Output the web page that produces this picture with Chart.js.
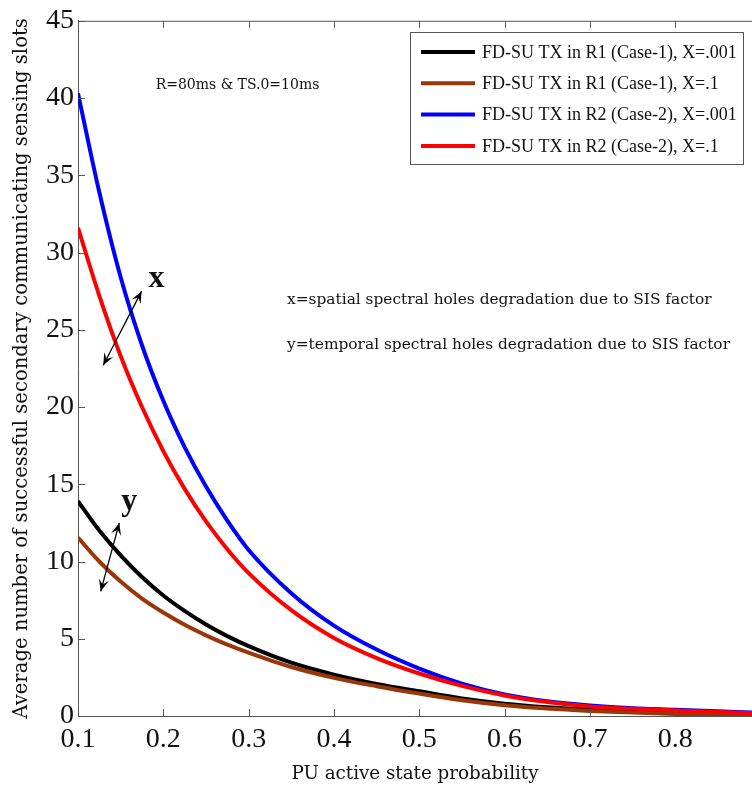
<!DOCTYPE html>
<html>
<head>
<meta charset="utf-8">
<script src="https://cdn.jsdelivr.net/npm/chart.js@4"></script>
<style>
  body { margin: 0; background: #fff; }
  #wrap { width: 752px; height: 789px; }
</style>
</head>
<body>
<div id="wrap"><canvas id="chart" width="752" height="789"></canvas></div>
<script>
// PU active state probability (x) and the four curves
const xValues = [0.10, 0.125, 0.15, 0.175, 0.20, 0.225, 0.25, 0.275, 0.30, 0.35, 0.40, 0.45, 0.50, 0.55, 0.60, 0.65, 0.70, 0.75, 0.80, 0.85, 0.89];
const r1Low  = [13.9, 12.0, 10.4, 9.0, 7.8, 6.8, 5.92, 5.17, 4.52, 3.45, 2.68, 2.08, 1.6, 1.14, 0.8, 0.57, 0.41, 0.3, 0.22, 0.15, 0.1];
const r1High = [11.55, 10.0, 8.7, 7.6, 6.7, 5.9, 5.22, 4.62, 4.1, 3.17, 2.47, 1.93, 1.45, 1.02, 0.7, 0.48, 0.33, 0.22, 0.13, 0.07, 0.04];
const r2Low  = [40.3, 33.9, 28.4, 24.0, 20.4, 17.4, 14.85, 12.65, 10.75, 7.95, 5.85, 4.3, 3.07, 2.1, 1.4, 0.95, 0.68, 0.5, 0.4, 0.3, 0.22];
const r2High = [31.6, 27.2, 23.3, 20.0, 17.15, 14.7, 12.6, 10.8, 9.25, 6.85, 5.05, 3.75, 2.75, 1.95, 1.33, 0.9, 0.62, 0.47, 0.36, 0.26, 0.18];

const seriesLabels = [
  "FD-SU TX in R1 (Case-1), X=.001",
  "FD-SU TX in R1 (Case-1), X=.1",
  "FD-SU TX in R2 (Case-2), X=.001",
  "FD-SU TX in R2 (Case-2), X=.1"
];
const seriesColors = ["#000000", "#9a3708", "#0000ff", "#ff0000"];

const xTicks = [0.1, 0.2, 0.3, 0.4, 0.5, 0.6, 0.7, 0.8];
const yTicks = [0, 5, 10, 15, 20, 25, 30, 35, 40, 45];

const SERIF = "'Liberation Serif', serif";
const WIDE_SERIF = "'DejaVu Serif', serif";

function toPoints(ys) {
  return xValues.map((x, i) => ({ x: x, y: ys[i] }));
}

// Inward ticks, top frame, legend box and the text / arrow annotations
const decorPlugin = {
  id: "decor",
  afterDraw(chart) {
    const ctx = chart.ctx;
    const area = chart.chartArea;
    const xs = chart.scales.x;
    const ys = chart.scales.y;

    ctx.save();
    ctx.strokeStyle = "#555";
    ctx.lineWidth = 1;
    // top frame
    ctx.beginPath();
    ctx.moveTo(area.left, area.top + 0.5);
    ctx.lineTo(area.right, area.top + 0.5);
    ctx.stroke();
    // x ticks (bottom and top)
    xTicks.forEach((v) => {
      const px = Math.round(xs.getPixelForValue(v)) + 0.5;
      ctx.beginPath();
      ctx.moveTo(px, area.bottom);
      ctx.lineTo(px, area.bottom - 7);
      ctx.moveTo(px, area.top);
      ctx.lineTo(px, area.top + 7);
      ctx.stroke();
    });
    // y ticks (left)
    yTicks.forEach((v) => {
      const py = Math.round(ys.getPixelForValue(v)) + 0.5;
      ctx.beginPath();
      ctx.moveTo(area.left, py);
      ctx.lineTo(area.left + 7, py);
      ctx.stroke();
    });

    // legend
    const lx = 410, ly = 32, lw = 333, lh = 132;
    ctx.fillStyle = "#fff";
    ctx.fillRect(lx, ly, lw, lh);
    ctx.strokeStyle = "#555";
    ctx.strokeRect(lx + 0.5, ly + 0.5, lw, lh);
    ctx.font = "18px " + SERIF;
    ctx.textBaseline = "middle";
    ctx.textAlign = "left";
    chart.data.datasets.forEach((ds, i) => {
      const rowY = 52 + i * 31.3;
      ctx.strokeStyle = ds.borderColor;
      ctx.lineWidth = 4;
      ctx.beginPath();
      ctx.moveTo(421, rowY);
      ctx.lineTo(475, rowY);
      ctx.stroke();
      ctx.fillStyle = "#111";
      ctx.fillText(ds.label, 482, rowY + 1);
    });

    // text notes
    ctx.fillStyle = "#111";
    ctx.textBaseline = "alphabetic";
    ctx.font = "14px " + WIDE_SERIF;
    ctx.fillText("R=80ms & TS.0=10ms", xs.getPixelForValue(0.191), ys.getPixelForValue(40.6));
    ctx.font = "15.4px " + WIDE_SERIF;
    ctx.fillText("x=spatial spectral holes degradation due to SIS factor",
      xs.getPixelForValue(0.345), ys.getPixelForValue(26.65));
    ctx.fillText("y=temporal spectral holes degradation due to SIS factor",
      xs.getPixelForValue(0.345), ys.getPixelForValue(23.75));

    ctx.font = "bold 32px " + SERIF;
    ctx.textAlign = "center";
    ctx.textBaseline = "middle";
    ctx.fillText("x", xs.getPixelForValue(0.192), ys.getPixelForValue(28.3));
    ctx.fillText("y", xs.getPixelForValue(0.160), ys.getPixelForValue(13.9));

    drawDoubleArrow(ctx,
      xs.getPixelForValue(0.1296), ys.getPixelForValue(22.7),
      xs.getPixelForValue(0.1746), ys.getPixelForValue(27.5));
    drawDoubleArrow(ctx,
      xs.getPixelForValue(0.1266), ys.getPixelForValue(8.07),
      xs.getPixelForValue(0.1484), ys.getPixelForValue(12.5));
    ctx.restore();
  }
};

function drawHead(ctx, x, y, ang) {
  const len = 13, spread = 0.4;
  ctx.beginPath();
  ctx.moveTo(x, y);
  ctx.lineTo(x - len * Math.cos(ang - spread), y - len * Math.sin(ang - spread));
  ctx.lineTo(x - len * 0.55 * Math.cos(ang), y - len * 0.55 * Math.sin(ang));
  ctx.lineTo(x - len * Math.cos(ang + spread), y - len * Math.sin(ang + spread));
  ctx.closePath();
  ctx.fill();
}

function drawDoubleArrow(ctx, x1, y1, x2, y2) {
  ctx.strokeStyle = "#000";
  ctx.fillStyle = "#000";
  ctx.lineWidth = 1.3;
  ctx.beginPath();
  ctx.moveTo(x1, y1);
  ctx.lineTo(x2, y2);
  ctx.stroke();
  const ang = Math.atan2(y2 - y1, x2 - x1);
  drawHead(ctx, x2, y2, ang);
  drawHead(ctx, x1, y1, ang + Math.PI);
}

const datasets = [r1Low, r1High, r2Low, r2High].map((ys, i) => ({
  label: seriesLabels[i],
  data: toPoints(ys),
  borderColor: seriesColors[i],
  backgroundColor: seriesColors[i],
  borderWidth: 4,
  pointRadius: 0,
  cubicInterpolationMode: "monotone",
  fill: false,
  order: 4 - i
}));

new Chart(document.getElementById("chart").getContext("2d"), {
  type: "line",
  data: { datasets: datasets },
  options: {
    responsive: false,
    animation: false,
    layout: { padding: { top: 16, right: 0, left: 0, bottom: 0 } },
    plugins: {
      legend: { display: false },
      tooltip: { enabled: false }
    },
    scales: {
      x: {
        type: "linear",
        min: 0.1,
        max: 0.89,
        afterBuildTicks: (scale) => {
          scale.ticks = xTicks.map((v) => ({ value: v }));
        },
        afterFit: (scale) => { scale.height = 73; },
        ticks: {
          color: "#111",
          font: { family: SERIF, size: 28 },
          padding: 7,
          maxRotation: 0,
          callback: (v) => v.toFixed(1)
        },
        grid: { display: false, drawTicks: false },
        border: { display: true, color: "#555", width: 1 },
        title: {
          display: true,
          text: "PU active state probability",
          color: "#111",
          font: { family: WIDE_SERIF, size: 18.3 },
          padding: { top: 0, bottom: 4 }
        }
      },
      y: {
        type: "linear",
        min: 0,
        max: 45,
        afterBuildTicks: (scale) => {
          scale.ticks = yTicks.map((v) => ({ value: v }));
        },
        afterFit: (scale) => { scale.width = 78; },
        ticks: {
          color: "#111",
          font: { family: SERIF, size: 28 },
          padding: 4
        },
        grid: { display: false, drawTicks: false },
        border: { display: true, color: "#555", width: 1 },
        title: {
          display: true,
          text: "Average number of successful secondary communicating sensing slots",
          color: "#111",
          font: { family: WIDE_SERIF, size: 19.6 },
          padding: { top: 10, bottom: 0 }
        }
      }
    }
  },
  plugins: [decorPlugin]
});
</script>
</body>
</html>
